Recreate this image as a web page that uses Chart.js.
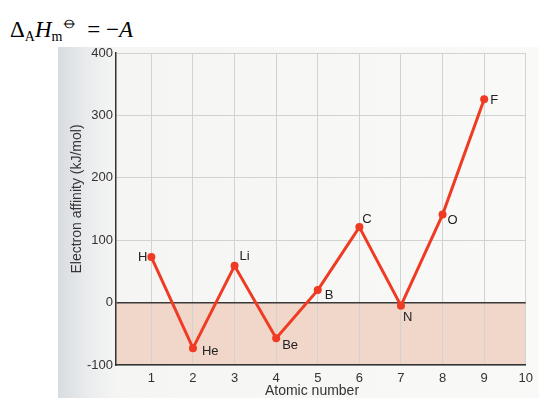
<!DOCTYPE html>
<html>
<head>
<meta charset="utf-8">
<script src="https://cdn.jsdelivr.net/npm/chart.js@4.4.1/dist/chart.umd.min.js"></script>
<style>
  body { margin: 0; background: #fff; }
  #wrap { position: relative; width: 539px; height: 398px; overflow: hidden; }
  #scan {
    position: absolute; left: 58px; top: 47px; right: 0; bottom: 0;
    background: linear-gradient(to right, #d8dce0 0px, #e9ebed 28px, #f5f5f4 58px, #f9f9f7 100%);
  }
  #formula {
    position: absolute; left: 10px; top: 9px;
    font-family: "Liberation Serif", "DejaVu Serif", serif; font-size: 23px; color: #000;
    white-space: nowrap;
  }
  #formula sub { font-size: 14px; vertical-align: -4px; }
  #formula sup { font-size: 20px; vertical-align: 9px; margin-left: -1px; margin-right: 3px; font-family: "DejaVu Sans", sans-serif; }
  canvas { position: absolute; left: 0; top: 0; }
</style>
</head>
<body>
<div id="wrap">
  <div id="scan"></div>
  <div id="formula">&Delta;<sub>A</sub><i>H</i><sub>m</sub><sup>&#x29B5;</sup> = &minus;<i>A</i></div>
  <canvas id="myChart" width="539" height="398"></canvas>
</div>
<script>
// Data
const atomicNumbers = [1, 2, 3, 4, 5, 6, 7, 8, 9];
const elements = ['H', 'He', 'Li', 'Be', 'B', 'C', 'N', 'O', 'F'];
const affinity = [73, -73, 59, -57, 20, 121, -5, 141, 326];
const xTicks = [1, 2, 3, 4, 5, 6, 7, 8, 9, 10];
const yTicks = [-100, 0, 100, 200, 300, 400];

// where each element label sits relative to its point (px)
const labelOffsets = [[-4, 0, 'right'], [9, 3, 'left'], [5, -9, 'left'], [6, 7, 'left'], [7, 5, 'left'],
                      [3, -8, 'left'], [2, 12, 'left'], [5, 6, 'left'], [6, 1, 'left']];

const FONT = '"Liberation Sans", Arial, sans-serif';

// pink band below zero
const negativeBand = {
    id: 'negativeBand',
    beforeDraw(chart) {
        const { ctx, chartArea, scales } = chart;
        const y0 = scales.y.getPixelForValue(0);
        ctx.save();
        ctx.fillStyle = '#f1d7c9';
        ctx.fillRect(chartArea.left, y0, chartArea.right - chartArea.left, chartArea.bottom - y0);
        ctx.restore();
    }
};

// element names and axis titles
const textLabels = {
    id: 'textLabels',
    afterDatasetsDraw(chart) {
        const { ctx } = chart;
        const meta = chart.getDatasetMeta(0);
        ctx.save();
        ctx.fillStyle = '#222';
        ctx.font = '13px ' + FONT;
        ctx.textBaseline = 'middle';
        meta.data.forEach((pt, i) => {
            const [dx, dy, align] = labelOffsets[i];
            ctx.textAlign = align;
            ctx.fillText(elements[i], pt.x + dx, pt.y + dy);
        });
        // axis titles
        ctx.fillStyle = '#333';
        ctx.font = '14px ' + FONT;
        ctx.textAlign = 'center';
        ctx.fillText('Atomic number', 312, 391);
        ctx.translate(77, 199);
        ctx.rotate(-Math.PI / 2);
        ctx.fillText('Electron affinity (kJ/mol)', 0, 0);
        ctx.restore();
    }
};

function drawChart() {
    const ctx = document.getElementById('myChart').getContext('2d');

    new Chart(ctx, {
        type: 'line',
        data: {
            datasets: [{
                data: atomicNumbers.map((n, i) => ({ x: n, y: affinity[i] })),
                borderColor: '#ef3b23',
                backgroundColor: '#ef3b23',
                borderWidth: 3,
                pointRadius: 4,
                pointBorderWidth: 0,
                tension: 0
            }]
        },
        options: {
            responsive: false,
            animation: false,
            layout: { padding: { left: 0, top: 53, right: 7, bottom: 0 } },
            plugins: { legend: { display: false }, tooltip: { enabled: false } },
            scales: {
                x: {
                    type: 'linear',
                    min: 0.15,
                    max: 10,
                    afterBuildTicks: s => { s.ticks = xTicks.map(v => ({ value: v })); },
                    afterFit: s => { s.height = 33; },
                    grid: { color: '#d2d2d2', lineWidth: 1, drawTicks: false },
                    border: { color: '#333', width: 1.5 },
                    ticks: { color: '#333', font: { family: FONT, size: 13 }, padding: 6 }
                },
                y: {
                    min: -100,
                    max: 400,
                    afterBuildTicks: s => { s.ticks = yTicks.map(v => ({ value: v })); },
                    afterFit: s => { s.width = 116; },
                    grid: {
                        color: c => c.tick && c.tick.value === 0 ? '#3a3a3a' : '#d2d2d2',
                        lineWidth: c => c.tick && c.tick.value === 0 ? 1.5 : 1,
                        drawTicks: false
                    },
                    border: { color: '#333', width: 1.5 },
                    ticks: { color: '#333', font: { family: FONT, size: 13 }, padding: 3 }
                }
            }
        },
        plugins: [negativeBand, textLabels]
    });
}

document.addEventListener('DOMContentLoaded', () => {
    try {
        drawChart();
    } catch (error) {
        console.error(error);
    }
});
</script>
</body>
</html>
